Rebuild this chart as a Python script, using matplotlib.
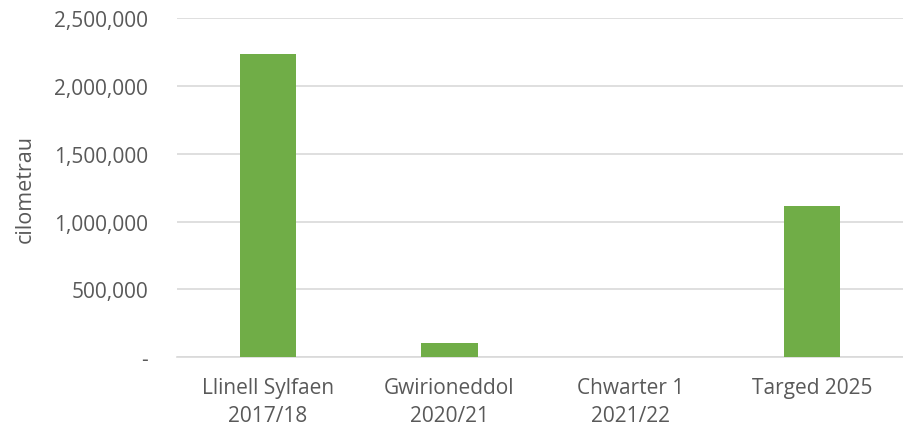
import matplotlib.pyplot as plt
from matplotlib.ticker import FuncFormatter

plt.rcParams['font.family'] = ['Open Sans', 'DejaVu Sans']

categories = ['Llinell Sylfaen\n2017/18', 'Gwirioneddol\n2020/21', 'Chwarter 1\n2021/22', 'Targed 2025']
km = [2231000, 107000, 0, 1115000]
yticks = [0, 500000, 1000000, 1500000, 2000000, 2500000]

txt = '#595959'
fig = plt.figure(figsize=(9.04, 4.35), dpi=100)
ax = fig.add_axes([0.196, 0.176, 0.803, 0.781])

x = range(len(categories))
ax.bar(x, km, width=0.31, color='#70AD47', zorder=3)

ax.set_xlim(-0.5, len(categories) - 0.5)
ax.set_ylim(0, 2500000)
ax.set_yticks(yticks)
ax.yaxis.set_major_formatter(FuncFormatter(lambda v, p: '-' if v == 0 else '{:,.0f}'.format(v)))
ax.set_xticks(list(x))
ax.set_xticklabels(categories, linespacing=1.45)
ax.grid(axis='y', color='#D9D9D9', linewidth=1.2, zorder=0)
for s in ['top', 'right', 'left']:
    ax.spines[s].set_visible(False)
ax.spines['bottom'].set_color('#D9D9D9')
ax.spines['bottom'].set_linewidth(1.2)
ax.tick_params(axis='both', length=0, colors=txt, labelsize=15)
ax.tick_params(axis='y', pad=21)
ax.tick_params(axis='x', pad=14)
ax.set_ylabel('cilometrau', color=txt, fontsize=15.5, labelpad=13)

fig.savefig('out.png', dpi=100)
